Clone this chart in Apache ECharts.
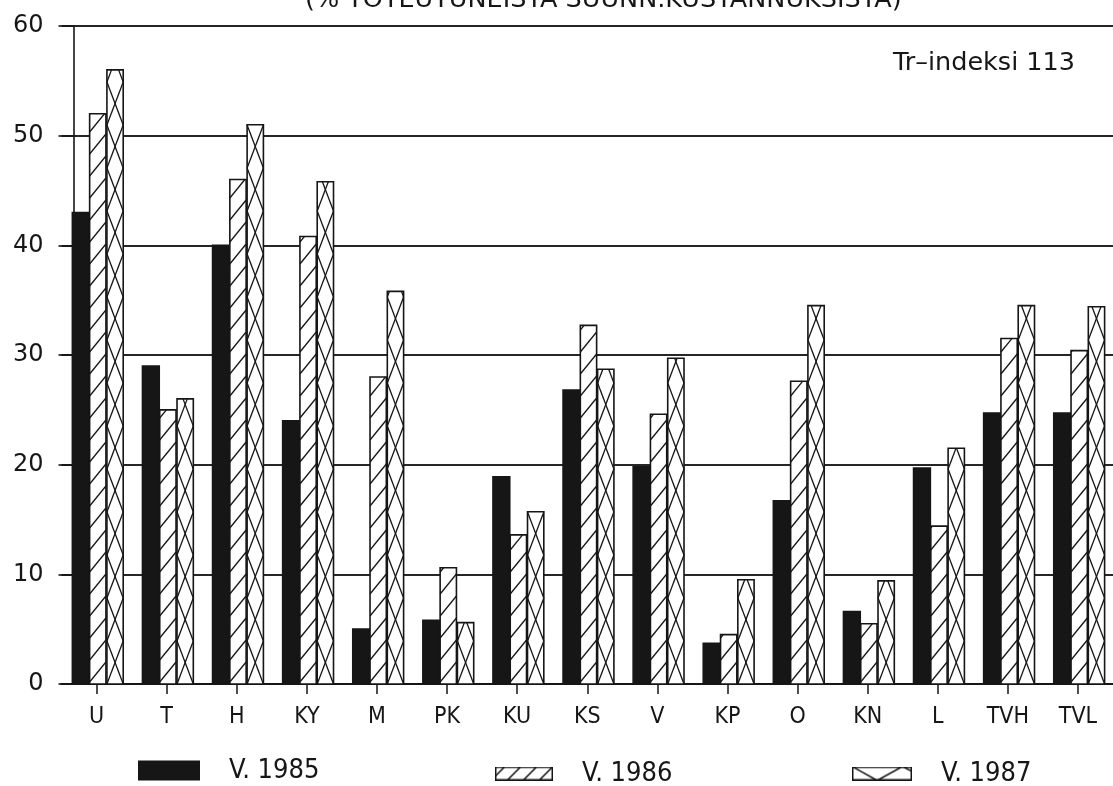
<!DOCTYPE html>
<html><head><meta charset="utf-8">
<script src="https://cdn.jsdelivr.net/npm/echarts@6/dist/echarts.min.js"></script>
<style>html,body{margin:0;padding:0;background:#fff}#c{width:1113px;height:786px}</style>
</head><body><div id="c"></div>
<script>
const categories = ['U','T','H','KY','M','PK','KU','KS','V','KP','O','KN','L','TVH','TVL'];
const v1985 = [43, 29, 40, 24, 5, 5.8, 18.9, 26.8, 19.8, 3.7, 16.7, 6.6, 19.7, 24.7, 24.7];
const v1986 = [52, 25, 46, 40.8, 28, 10.6, 13.6, 32.7, 24.6, 4.5, 27.6, 5.5, 14.4, 31.5, 30.4];
const v1987 = [56, 26, 51, 45.8, 35.8, 5.6, 15.7, 28.7, 29.7, 9.5, 34.5, 9.4, 21.5, 34.5, 34.4];
const seriesNames = ['V. 1985', 'V. 1986', 'V. 1987'];
const titleText = '(% TOTEUTUNEISTA SUUNN.KUSTANNUKSISTA)';
const noteText = 'Tr\u2013indeksi 113';

const INK = '#161616';
const NARROW = '"Liberation Sans Narrow", "DejaVu Sans Condensed", "Liberation Sans", sans-serif';
const WIDE = '"DejaVu Sans", "Liberation Sans", sans-serif';

function clipSeg(xa, ya, xb, yb, yT, yB) {
  let t0 = 0, t1 = 1;
  const dy = yb - ya;
  if (Math.abs(dy) < 1e-9) { if (ya < yT || ya > yB) return null; }
  else {
    let ta = (yT - ya) / dy, tb = (yB - ya) / dy;
    if (ta > tb) { const s = ta; ta = tb; tb = s; }
    t0 = Math.max(t0, ta); t1 = Math.min(t1, tb);
  }
  if (t1 - t0 < 1e-6) return null;
  return [xa + (xb - xa) * t0, ya + dy * t0, xa + (xb - xa) * t1, ya + dy * t1];
}

function makeRender(kind, offsetFrac, widthFrac) {
  return function (params, api) {
    const i = api.value(0), v = api.value(1);
    const top = api.coord([i, v]);
    const base = api.coord([i, 0]);
    const band = api.size([1, 0])[0];
    const w = band * widthFrac;
    const x0 = top[0] + band * offsetFrac;
    const x1 = x0 + w;
    const yT = top[1], yB = base[1];
    const children = [];
    children.push({ type: 'rect', shape: { x: x0, y: yT, width: w, height: yB - yT },
      style: { fill: kind === 'solid' ? INK : '#fff', stroke: INK, lineWidth: 1.6 } });
    const segs = [];
    if (kind === 'hatch') {
      const rise = 20, sp = 22;
      for (let yL = yB + rise; yL > yT - 1; yL -= sp) {
        const s = clipSeg(x0, yL, x1, yL - rise, yT, yB); if (s) segs.push(s);
      }
    } else if (kind === 'cross') {
      const P = 43;
      for (let yL = yB + P; yL > yT - P; yL -= P) {
        const a = clipSeg(x0, yL, x1, yL - P, yT, yB); if (a) segs.push(a);
        const b = clipSeg(x0, yL, x1, yL + P, yT, yB); if (b) segs.push(b);
      }
    }
    segs.forEach(s => children.push({ type: 'line', shape: { x1: s[0], y1: s[1], x2: s[2], y2: s[3] },
      style: { stroke: INK, lineWidth: 1.3 } }));
    return { type: 'group', children: children };
  };
}

function iconURL(kind, w, h) {
  const c = document.createElement('canvas');
  c.width = w; c.height = h;
  const g = c.getContext('2d');
  g.fillStyle = '#fff'; g.fillRect(0, 0, w, h);
  g.strokeStyle = INK; g.lineWidth = 1.5;
  g.beginPath();
  if (kind === 'hatch') {
    for (let x = -4; x < w; x += 16) { g.moveTo(x, h); g.lineTo(x + 14, 0); }
  } else {
    g.moveTo(0, 0); g.lineTo(w * 0.42, h); g.lineTo(w * 0.84, 0); g.lineTo(w, h * 0.35);
  }
  g.stroke();
  g.strokeRect(0.75, 0.75, w - 1.5, h - 1.5);
  return 'image://' + c.toDataURL();
}

const chart = echarts.init(document.getElementById('c'), null, { renderer: 'canvas' });
const toData = arr => arr.map((v, i) => [i, v]);
const legendText = { fontSize: 27, fontFamily: NARROW, color: INK, padding: [0, 0, 0, 24] };

chart.setOption({
  backgroundColor: '#fff',
  animation: false,
  title: [
    { text: titleText, left: 300, top: -18, textStyle: { fontSize: 25.5, fontWeight: 'normal', fontFamily: WIDE, color: INK } },
    { text: noteText, right: 33, top: 45, textStyle: { fontSize: 25.5, fontWeight: 'normal', fontFamily: WIDE, color: INK } }
  ],
  grid: { left: 61.5, right: -13.5, top: 26, bottom: 102, containLabel: false },
  xAxis: {
    type: 'category', data: categories, boundaryGap: true,
    axisLine: { show: true, lineStyle: { color: INK, width: 2 } },
    axisTick: { show: true, alignWithLabel: true, length: 10, lineStyle: { color: INK, width: 1.5 } },
    axisLabel: { margin: 22, fontSize: 23, fontFamily: NARROW, color: INK }
  },
  yAxis: {
    type: 'value', min: 0, max: 60, interval: 10, offset: -12,
    axisLine: { show: true, lineStyle: { color: INK, width: 1.6 } },
    axisTick: { show: true, length: 15, inside: false, lineStyle: { color: INK, width: 1.6 } },
    splitLine: { show: true, lineStyle: { color: '#262626', width: 2 } },
    axisLabel: { margin: 30, fontSize: 24, fontFamily: WIDE, color: INK }
  },
  legend: [
    { left: 138, top: 757, padding: 0, itemWidth: 62, itemHeight: 20, textStyle: legendText,
      data: [{ name: seriesNames[0], icon: 'rect', itemStyle: { color: INK } }] },
    { left: 495, top: 760, padding: 0, itemWidth: 58, itemHeight: 14, textStyle: legendText,
      data: [{ name: seriesNames[1], icon: iconURL('hatch', 58, 14) }] },
    { left: 852, top: 760, padding: 0, itemWidth: 60, itemHeight: 14, textStyle: legendText,
      data: [{ name: seriesNames[2], icon: iconURL('cross', 60, 14) }] }
  ],
  series: [
    { name: seriesNames[0], type: 'custom', renderItem: makeRender('solid', -24.5 / 71, 17 / 71), encode: { x: 0, y: 1 }, data: toData(v1985), itemStyle: { color: INK } },
    { name: seriesNames[1], type: 'custom', renderItem: makeRender('hatch', -7.0 / 71, 16.5 / 71), encode: { x: 0, y: 1 }, data: toData(v1986), itemStyle: { color: '#fff' } },
    { name: seriesNames[2], type: 'custom', renderItem: makeRender('cross', 10.5 / 71, 16.5 / 71), encode: { x: 0, y: 1 }, data: toData(v1987), itemStyle: { color: '#fff' } }
  ]
});
</script>
</body></html>
